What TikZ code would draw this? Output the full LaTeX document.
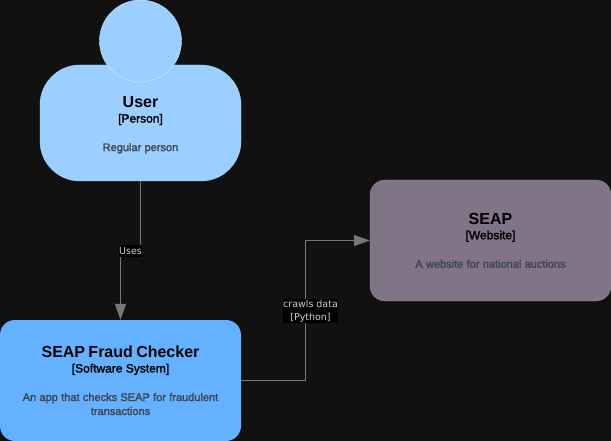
\documentclass[tikz,border=0pt]{standalone}
\usepackage{fontspec}
\setmainfont{Liberation Sans}
\newfontfamily\fatfont[FakeBold=2]{Liberation Sans}
\newfontfamily\labelfont{DejaVu Sans}
\usetikzlibrary{arrows.meta,positioning,calc}

\definecolor{pagebg}{HTML}{111111}
\definecolor{personfill}{HTML}{9BCFFF}
\definecolor{systemfill}{HTML}{63B1FF}
\definecolor{sitefill}{HTML}{7F7587}
\definecolor{linegray}{HTML}{777777}
\definecolor{desctext}{HTML}{3F4650}

\newcommand{\boxtext}[3]{{\fontsize{16}{16}\bfseries #1\par}%
  {\fatfont\fontsize{12}{15}\selectfont [#2]\par}\vspace{14.5pt}%
  {\fatfont\fontsize{11}{14}\selectfont\color{desctext} #3\par}}

\begin{document}
\begin{tikzpicture}[
    x=1pt, y=-1pt,
    card/.style={rectangle, minimum width=241pt, minimum height=121pt, inner sep=0pt,
      align=center, text width=212pt, rounded corners=15pt, text=black},
    rel/.style={draw=linegray, line width=1pt, -{Triangle[length=16pt,width=11pt,fill=linegray]}},
    rellabel/.style={fill=black, text=white!82!black, inner sep=0pt, align=center,
      font=\labelfont\fontsize{9.5}{13}\selectfont}
  ]

  \useasboundingbox[fill=pagebg] (0,0) rectangle (611,441);

  % user
  \node[card, fill=personfill, draw=personfill!85!white, line width=0.4pt, minimum width=201pt, minimum height=116pt,
    rounded corners=40pt, text width=180pt] (user) at (140.5,123) {};
  \node[circle, fill=personfill, draw=white!60!personfill, line width=0.4pt, minimum size=82pt, inner sep=0pt] (head) at (140.5,41) {};
  \node[align=center, text width=180pt, inner sep=0pt] (usertext) at (140.5,125) {\boxtext{User}{Person}{Regular person}};

  % systems
  \node[card, fill=systemfill] (checker) at (120.5,380.5)
    {\boxtext{SEAP Fraud Checker}{Software System}{An app that checks SEAP for fraudulent\\transactions}};
  \node[card, fill=sitefill, draw=sitefill!85!white, line width=0.3pt] (seap) at (490.5,240.5)
    {\boxtext{SEAP}{Website}{A website for national auctions}};

  % connectors
  \coordinate (usesjog) at (120.5,250.5);
  \draw[rel] (user.south) |- (usesjog) -- (checker.north);
  \draw[rel] (checker.east) -- ++(64,0) |- (seap.west);

  % labels
  \node[rellabel, minimum width=23pt, minimum height=12pt] (uses) at (130.5,251) {Uses};
  \node[rellabel, minimum width=55pt, minimum height=24pt] (crawls) at (310.5,311) {crawls data\\{[Python]}};
\end{tikzpicture}
\end{document}
